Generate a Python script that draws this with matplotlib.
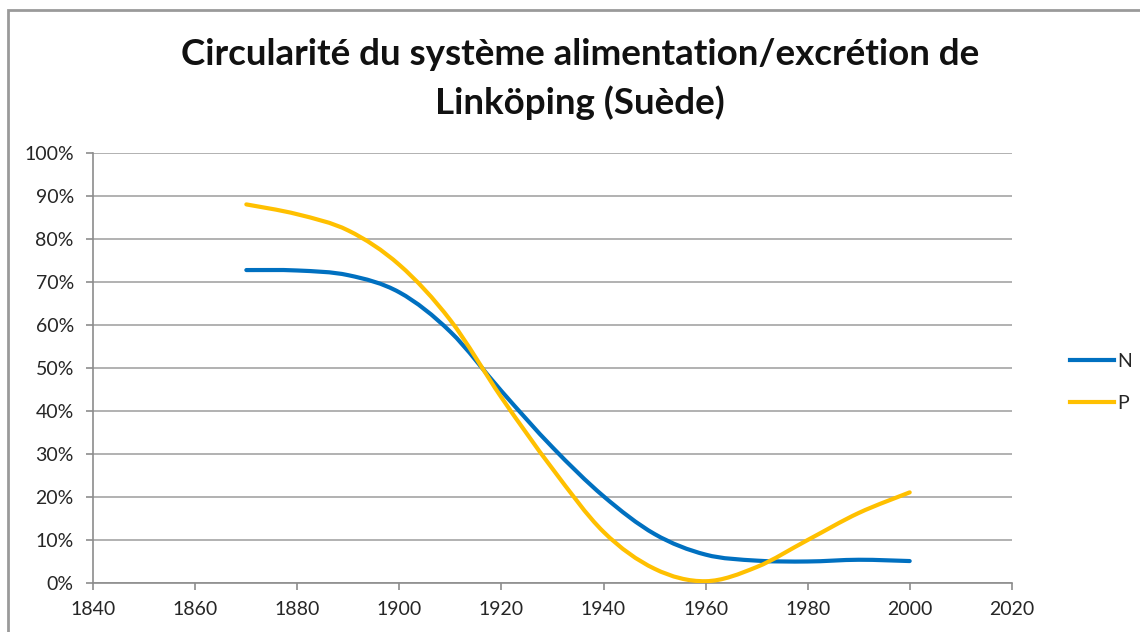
import matplotlib
matplotlib.use("Agg")
import matplotlib.pyplot as plt
from matplotlib.path import Path
from matplotlib.patches import PathPatch, Rectangle
from matplotlib.lines import Line2D
from matplotlib.ticker import PercentFormatter, MultipleLocator

plt.rcParams['font.family'] = ['Lato', 'DejaVu Sans']

years = [1870, 1880, 1890, 1900, 1910, 1920, 1930, 1940, 1950, 1960, 1970, 1980, 1990, 2000]
n_share = [72.8, 72.7, 71.6, 67.6, 58.4, 44.6, 31.5, 20.1, 11.3, 6.5, 5.1, 4.9, 5.3, 5.0]
p_share = [88.1, 85.8, 82.0, 74.0, 61.1, 43.1, 26.5, 11.8, 3.2, 0.3, 3.6, 9.9, 16.2, 21.0]

series_names = ['N', 'P']
series_colors = ['#0070C0', '#FFC000']
title = "Circularité du système alimentation/excrétion de\nLinköping (Suède)"


def smooth_path(xs, ys):
    """Bezier path through every point, with spreadsheet-style smoothing."""
    pts = list(zip(xs, ys))
    n = len(pts)
    verts = [pts[0]]
    codes = [Path.MOVETO]
    for i in range(n - 1):
        p0 = pts[i - 1] if i > 0 else pts[i]
        p1 = pts[i]
        p2 = pts[i + 1]
        p3 = pts[i + 2] if i + 2 < n else pts[i + 1]
        c1 = (p1[0] + (p2[0] - p0[0]) / 6, p1[1] + (p2[1] - p0[1]) / 6)
        c2 = (p2[0] - (p3[0] - p1[0]) / 6, p2[1] - (p3[1] - p1[1]) / 6)
        verts += [c1, c2, p2]
        codes += [Path.CURVE4] * 3
    return Path(verts, codes)


fig = plt.figure(figsize=(11.4, 6.32), dpi=100)
ax = fig.add_axes([0.0818, 0.0783, 0.8057, 0.6791])

for vals, color in zip([n_share, p_share], series_colors):
    ax.add_patch(PathPatch(smooth_path(years, vals), facecolor='none',
                           edgecolor=color, lw=3.0, capstyle='round',
                           joinstyle='round', zorder=3))

ax.set_xlim(1840, 2020)
ax.set_ylim(0, 100)
ax.xaxis.set_major_locator(MultipleLocator(20))
ax.yaxis.set_major_locator(MultipleLocator(10))
ax.yaxis.set_major_formatter(PercentFormatter(decimals=0))
ax.grid(axis='y', color='#ababab', lw=1.3)
ax.set_axisbelow(True)
for side in ['top', 'right']:
    ax.spines[side].set_visible(False)
for side in ['left', 'bottom']:
    ax.spines[side].set_color('#8c8c8c')
    ax.spines[side].set_linewidth(1.2)
ax.tick_params(axis='both', colors='#8c8c8c', labelcolor='#262626',
               labelsize=14, length=5, width=1.2)
ax.tick_params(axis='y', pad=9)
ax.tick_params(axis='x', pad=8)

handles = [Line2D([], [], color=c, lw=3.0) for c in series_colors]
fig.legend(handles, series_names, loc='center left',
           bbox_to_anchor=(0.923, 0.395), frameon=False, fontsize=14,
           handlelength=2.3, handletextpad=0.15, labelspacing=1.25,
           labelcolor='#262626')

fig.text(0.509, 0.875, title, ha='center', va='center', fontsize=26.5,
         fontweight='bold', linespacing=1.5, color='#111111')

fig.patches.append(Rectangle((8 / 1140, -0.2), 1.2, 1.2 - 10 / 632,
                             transform=fig.transFigure, fill=False,
                             edgecolor='#9a9a9a', lw=2.0))

fig.savefig('out.png', dpi=100)
